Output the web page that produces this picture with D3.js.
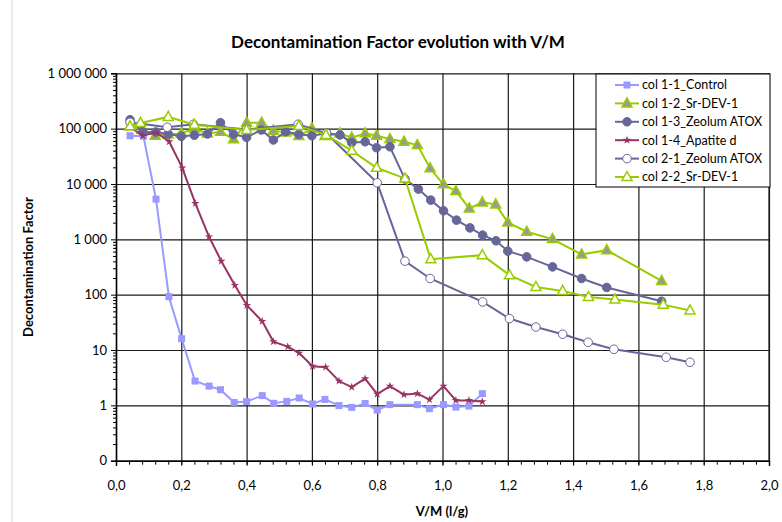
<!DOCTYPE html>
<html><head><meta charset="utf-8">
<script src="https://cdn.jsdelivr.net/npm/d3@7/dist/d3.min.js"></script>
<style>
body{margin:0;background:#fff;}
text{font-family:Lato,"Open Sans",sans-serif;}
</style></head>
<body>
<svg id="c" width="782" height="522"></svg>
<script>
// ---- data ----
const xControl = [0.043,0.084,0.1225,0.162,0.201,0.242,0.285,0.32,0.362,0.40,0.448,0.483,0.523,0.561,0.602,0.64,0.683,0.722,0.763,0.80,0.839,0.923,0.96,1.003,1.041,1.081,1.122];
const yControl = [74500,73000,5330,92,16,2.75,2.23,1.92,1.13,1.17,1.5,1.09,1.18,1.36,1.06,1.28,0.99,0.92,1.08,0.82,1.03,1.03,0.87,1.03,0.93,0.97,1.63];

const xSr1 = [0.043,0.08,0.12,0.16,0.20,0.24,0.28,0.32,0.36,0.40,0.446,0.482,0.52,0.56,0.60,0.64,0.686,0.722,0.763,0.798,0.839,0.882,0.923,0.962,1.003,1.041,1.082,1.122,1.163,1.20,1.258,1.337,1.426,1.503,1.671];
const ySr1 = [110000,95000,74500,78000,82000,101000,82000,88000,64000,128000,128000,92000,85000,73600,101000,73600,82000,68700,82400,74500,65000,58000,50600,19200,9840,7450,3620,4650,4280,2020,1370,1010,533,637,177];

const xZeo1 = [0.043,0.082,0.122,0.16,0.20,0.24,0.28,0.32,0.36,0.40,0.445,0.482,0.52,0.56,0.60,0.645,0.686,0.722,0.763,0.798,0.839,0.885,0.926,0.964,1.003,1.043,1.084,1.123,1.164,1.20,1.258,1.337,1.426,1.503,1.671];
const yZeo1 = [145000,88000,87000,80000,72600,76000,80000,128000,79000,69700,94600,62400,88000,79000,74500,82400,77000,55700,58000,45200,47100,12270,8090,5110,3280,2220,1610,1190,940,611,482,318,196,135,76];

const xApa = [0.043,0.082,0.1225,0.163,0.203,0.243,0.285,0.3226,0.364,0.401,0.448,0.482,0.526,0.561,0.602,0.642,0.683,0.722,0.763,0.80,0.839,0.882,0.923,0.96,1.003,1.041,1.081,1.122];
const yApa = [105800,74500,86000,58000,19600,4460,1110,403,148,64,33,14.2,11.5,8.8,5.1,4.9,2.75,2.14,3.04,1.6,2.23,1.56,1.63,1.27,2.23,1.23,1.23,1.17];

const xZeo2 = [0.043,0.157,0.237,0.40,0.558,0.645,0.80,0.885,0.962,1.123,1.205,1.286,1.368,1.446,1.525,1.685,1.758];
const yZeo2 = [130000,106000,120000,97000,120000,82000,10500,403,196,74,37,26,19.3,13.8,10.3,7.4,6.0];

const xSr2 = [0.043,0.075,0.16,0.24,0.40,0.56,0.643,0.722,0.798,0.885,0.964,1.122,1.205,1.286,1.368,1.447,1.528,1.676,1.758];
const ySr2 = [110000,127000,163000,118000,94600,112000,77000,40000,19600,12600,438,518,225,138,117,91,82,66,52];

const seriesNames = ["col 1-1_Control","col 1-2_Sr-DEV-1","col 1-3_Zeolum ATOX","col 1-4_Apatite d","col 2-1_Zeolum ATOX","col 2-2_Sr-DEV-1"];
const xTicks = [0,0.2,0.4,0.6,0.8,1.0,1.2,1.4,1.6,1.8,2.0];
const yTicks = [0.1,1,10,100,1000,10000,100000,1000000];

// ---- styles ----
const styles = [
  {x:xControl,y:yControl,color:"#9999FF",marker:"square",fill:"#9999FF"},
  {x:xSr1,y:ySr1,color:"#99CC00",marker:"triangle",fill:"#999999"},
  {x:xZeo1,y:yZeo1,color:"#666699",marker:"circle",fill:"#666699"},
  {x:xApa,y:yApa,color:"#993366",marker:"diamond",fill:"#993366"},
  {x:xZeo2,y:yZeo2,color:"#666699",marker:"circle",fill:"#ffffff"},
  {x:xSr2,y:ySr2,color:"#99CC00",marker:"triangle",fill:"#ffffff"}
];

const svg = d3.select("#c");
const L=116,R=769,T=73.3,B=460.7;
const xs = d3.scaleLinear().domain([0,2]).range([L,R]);
const ys = d3.scaleLog().domain([0.1,1e6]).range([B,T]);
const loc = d3.formatLocale({decimal:",",thousands:"\u00a0",grouping:[3],currency:["",""]});
const fy = v => v<1 ? "0" : loc.format(",")(v).replace(/\u00a0/g," ");
const fx = loc.format(".1f");

// frame line
svg.append("rect").attr("x",12).attr("y",-2).attr("width",800).attr("height",530).attr("fill","none").attr("stroke","#d9d9d9").attr("stroke-width",1);

// gridlines (via axes)
svg.append("g").attr("class","hgrid").attr("transform",`translate(${L},0)`)
 .call(d3.axisLeft(ys).tickValues(yTicks).tickSize(-(R-L)).tickFormat(""))
 .call(a=>a.select(".domain").remove())
 .call(a=>a.selectAll("line").attr("stroke","#1a1a1a").attr("stroke-width",1.2));
svg.append("g").attr("class","vgrid").attr("transform",`translate(0,${B})`)
 .call(d3.axisBottom(xs).tickValues(xTicks).tickSize(-(B-T)).tickFormat(""))
 .call(a=>a.select(".domain").remove())
 .call(a=>a.selectAll("line").attr("stroke","#1a1a1a").attr("stroke-width",1.2));

// minor ticks
const yMinor=[];
for(let k=-1;k<6;k++) for(let m=2;m<10;m++) yMinor.push(m*Math.pow(10,k));
const xMinor=d3.range(0,2.0001,0.04);
svg.append("g").attr("transform",`translate(${L},0)`)
 .call(d3.axisLeft(ys).tickValues(yMinor).tickSize(3).tickFormat(""))
 .call(a=>a.select(".domain").remove());
svg.append("g").attr("transform",`translate(0,${B})`)
 .call(d3.axisBottom(xs).tickValues(xMinor).tickSize(4).tickFormat(""))
 .call(a=>a.select(".domain").remove());

// main axes
const ya = svg.append("g").attr("transform",`translate(${L},0)`)
 .call(d3.axisLeft(ys).tickValues(yTicks).tickSize(5).tickFormat(fy).tickPadding(4));
ya.selectAll("text").attr("font-size",13).attr("fill","#000");
ya.select(".domain").attr("stroke","#000").attr("stroke-width",1.5);
const xa = svg.append("g").attr("transform",`translate(0,${B})`)
 .call(d3.axisBottom(xs).tickValues(xTicks).tickSize(5).tickFormat(fx).tickPadding(15));
xa.selectAll("text").attr("font-size",13).attr("fill","#000");
xa.select(".domain").attr("stroke","#000").attr("stroke-width",1.5);

// series
const lineGen = d3.line();
function drawMarker(sel, type, c, fill){
  if(type==="square") sel.append("rect").attr("x",-3.5).attr("y",-3.5).attr("width",7).attr("height",7).attr("fill",fill);
  else if(type==="circle") sel.append("circle").attr("r",4.3).attr("fill",fill).attr("stroke",c).attr("stroke-width",1);
  else if(type==="triangle") sel.append("path").attr("d","M0,-5.5L5,3.5L-5,3.5Z").attr("fill",fill).attr("stroke",c).attr("stroke-width",1.5);
  else if(type==="diamond") sel.append("path").attr("d",d3.symbol(d3.symbolStar,22)()).attr("fill",fill);
}
styles.forEach(s=>{
  const pts = s.x.map((v,i)=>[xs(v),ys(s.y[i])]);
  svg.append("path").attr("d",lineGen(pts)).attr("fill","none").attr("stroke",s.color).attr("stroke-width",2);
  pts.forEach(p=>{
    const m = svg.append("g").attr("transform",`translate(${p[0]},${p[1]})`);
    drawMarker(m,s.marker,s.color,s.fill);
  });
});

// right border
svg.append("line").attr("x1",R).attr("x2",R).attr("y1",T).attr("y2",B).attr("stroke","#1a1a1a").attr("stroke-width",1.2);

// legend
const lg = svg.append("g");
lg.append("rect").attr("x",596).attr("y",74).attr("width",174).attr("height",113).attr("fill","#fff").attr("stroke","#000").attr("stroke-width",1);
seriesNames.forEach((n,i)=>{
  const yy = 85 + i*18.4;
  const s = styles[i];
  lg.append("line").attr("x1",615).attr("x2",639).attr("y1",yy).attr("y2",yy).attr("stroke",s.color).attr("stroke-width",2);
  const m = lg.append("g").attr("transform",`translate(627,${yy})`);
  drawMarker(m,s.marker,s.color,s.fill);
  lg.append("text").attr("x",642).attr("y",yy).attr("dy","0.35em").attr("font-size",12.5).text(n);
});

// titles
svg.append("text").attr("x",398).attr("y",48).attr("text-anchor","middle").attr("font-size",17).attr("font-weight","bold").text("Decontamination Factor evolution with V/M");
svg.append("text").attr("x",442).attr("y",516).attr("text-anchor","middle").attr("font-size",13).attr("font-weight","bold").text("V/M (l/g)");
svg.append("text").attr("transform","translate(33,267) rotate(-90)").attr("text-anchor","middle").attr("font-size",13).attr("font-weight","bold").text("Decontamination Factor");
</script>
</body></html>
